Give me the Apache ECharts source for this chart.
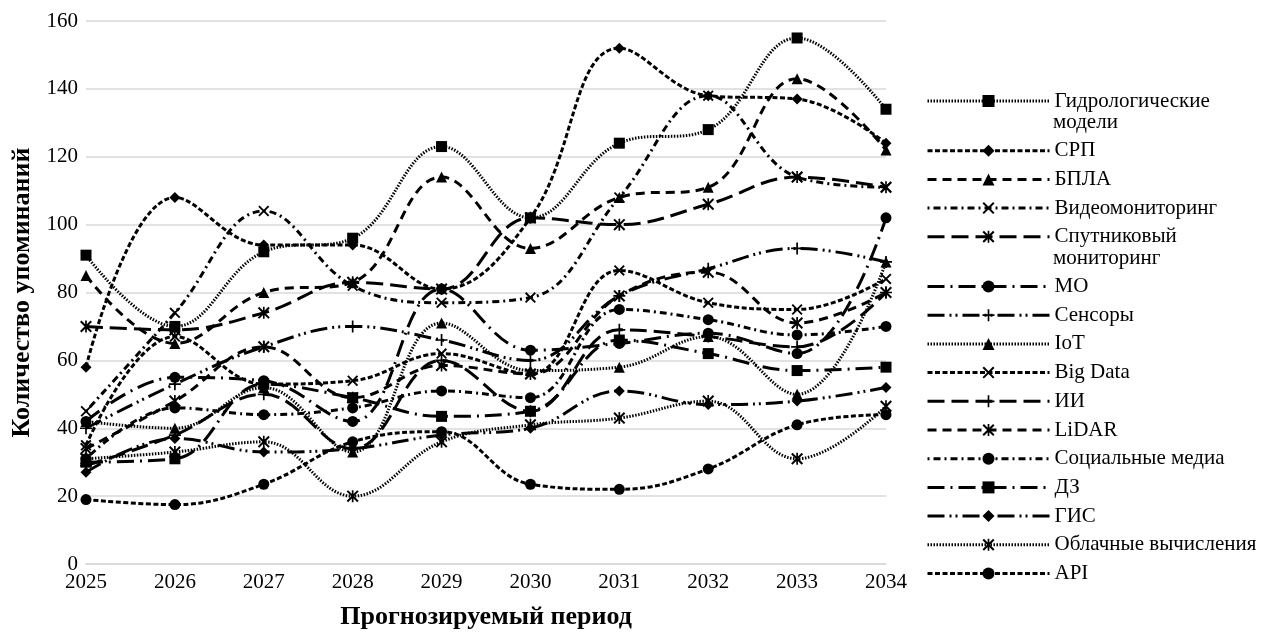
<!DOCTYPE html>
<html>
<head>
<meta charset="utf-8">
<script src="https://cdn.jsdelivr.net/npm/echarts@6/dist/echarts.min.js"></script>
<style>
  html, body { margin: 0; padding: 0; background: #fff; }
  #chart { width: 1262px; height: 635px; }
</style>
</head>
<body>
<div id="chart"></div>
<script>
// Прогноз количества упоминаний технологий, 2025–2034
const years = ['2025', '2026', '2027', '2028', '2029', '2030', '2031', '2032', '2033', '2034'];
const yTicks = [0, 20, 40, 60, 80, 100, 120, 140, 160];

const hydroModels   = [91, 70, 92, 96, 123, 102, 124, 128, 155, 134];
const srp           = [58, 108, 94, 94, 81, 102, 152, 138, 137, 124];
const uav           = [85, 65, 80, 83, 114, 93, 108, 111, 143, 122];
const videoMonitor  = [45, 74, 104, 82, 77, 78.5, 108, 138, 114, 111];
const satellite     = [70, 69, 74, 83, 81, 102, 100, 106, 114, 111];
const ml            = [42, 55, 54, 42, 81, 63, 65, 68, 62, 102];
const sensors       = [40, 53, 64, 70, 66, 60, 79, 87, 93, 89];
const iot           = [42, 40, 52, 33, 71, 57, 58, 67, 50, 89];
const bigData       = [35, 67, 53, 54, 62, 56, 86.5, 77, 75, 84];
const ai            = [29, 38, 50, 34, 60, 45, 69, 67, 64, 80];
const lidar         = [34, 48, 64, 49, 58.5, 56, 79, 86, 71, 80];
const socialMedia   = [31, 46, 44, 46, 51, 49, 75, 72, 67.5, 70];
const remoteSensing = [30, 31, 53, 49, 43.5, 45, 66, 62, 57, 58];
const gis           = [27, 37, 33, 34, 38, 40, 51, 47, 48, 52];
const cloud         = [31, 33, 36, 20, 36, 41, 43, 48, 31, 46.5];
const api           = [19, 17.5, 23.5, 36, 39, 23.5, 22, 28, 41, 44];

// marker shapes
const X_MARK = 'path://M0,1.2L1.2,0L10,8.8L8.8,10Z M8.8,0L10,1.2L1.2,10L0,8.8Z';
const PLUS_MARK = 'path://M4.3,0H5.7V10H4.3Z M0,4.3H10V5.7H0Z';
const STAR_MARK = 'path://M4.3,0H5.7V10H4.3Z M0,1.2L1.2,0L10,8.8L8.8,10Z M8.8,0L10,1.2L1.2,10L0,8.8Z';

// dash patterns
const DOT = [1.5, 1.5];
const SQDASH = [5, 2.5];
const DASH = [9, 6];
const DASHDOT = [2, 4, 7, 4];
const LONGDASH = [17, 7];
const LONGDASHDOT = [17, 6, 2, 6];
const LONGDASHDOTDOT = [17, 5, 2, 4, 2, 5];

const seriesDefs = [
  { name: 'Гидрологические модели', data: hydroModels, dash: DOT, symbol: 'rect', size: 11 },
  { name: 'СРП', data: srp, dash: SQDASH, symbol: 'diamond', size: 11 },
  { name: 'БПЛА', data: uav, dash: DASH, symbol: 'triangle', size: 11 },
  { name: 'Видеомониторинг', data: videoMonitor, dash: DASHDOT, symbol: X_MARK, size: 11 },
  { name: 'Спутниковый мониторинг', data: satellite, dash: LONGDASH, symbol: STAR_MARK, size: 12 },
  { name: 'МО', data: ml, dash: LONGDASHDOT, symbol: 'circle', size: 11 },
  { name: 'Сенсоры', data: sensors, dash: LONGDASHDOTDOT, symbol: PLUS_MARK, size: 12 },
  { name: 'IoT', data: iot, dash: DOT, symbol: 'triangle', size: 11 },
  { name: 'Big Data', data: bigData, dash: SQDASH, symbol: X_MARK, size: 11 },
  { name: 'ИИ', data: ai, dash: LONGDASH, symbol: PLUS_MARK, size: 12 },
  { name: 'LiDAR', data: lidar, dash: DASH, symbol: STAR_MARK, size: 12 },
  { name: 'Социальные медиа', data: socialMedia, dash: DASHDOT, symbol: 'circle', size: 11 },
  { name: 'ДЗ', data: remoteSensing, dash: LONGDASHDOT, symbol: 'rect', size: 11 },
  { name: 'ГИС', data: gis, dash: LONGDASHDOTDOT, symbol: 'diamond', size: 11 },
  { name: 'Облачные вычисления', data: cloud, dash: DOT, symbol: STAR_MARK, size: 12 },
  { name: 'API', data: api, dash: SQDASH, symbol: 'circle', size: 11 }
];

const FONT = 'Liberation Serif, Times New Roman, serif';
const firstLine = { 'Гидрологические модели': 'Гидрологические', 'Спутниковый мониторинг': 'Спутниковый' };

const legendBase = {
  orient: 'vertical',
  left: 921,
  itemWidth: 122,
  itemHeight: 15,
  itemGap: 7.7,
  selectedMode: false,
  formatter: n => firstLine[n] || n,
  lineStyle: { width: 3 },
  textStyle: { fontFamily: FONT, fontSize: 21, color: '#000', lineHeight: 21 }
};
const names = seriesDefs.map(s => s.name);

const chart = echarts.init(document.getElementById('chart'), null, { renderer: 'canvas' });
chart.setOption({
  animation: false,
  backgroundColor: '#fff',
  grid: { left: 86, right: 376, top: 21, bottom: 68, containLabel: false },
  xAxis: {
    type: 'category',
    data: years,
    boundaryGap: false,
    axisLine: { show: true, lineStyle: { color: '#d9d9d9', width: 1.5 } },
    axisTick: { show: false },
    axisLabel: { fontFamily: FONT, fontSize: 21, color: '#000', margin: 8 },
    name: 'Прогнозируемый период',
    nameLocation: 'middle',
    nameGap: 40,
    nameTextStyle: { fontFamily: FONT, fontSize: 26, fontWeight: 'bold', color: '#000' }
  },
  yAxis: {
    type: 'value',
    min: yTicks[0],
    max: yTicks[yTicks.length - 1],
    interval: yTicks[1] - yTicks[0],
    axisLine: { show: false },
    axisTick: { show: false },
    axisLabel: { fontFamily: FONT, fontSize: 21, color: '#000', margin: 8 },
    splitLine: { lineStyle: { color: '#d9d9d9', width: 1.5 } },
    name: 'Количество упоминаний',
    nameLocation: 'middle',
    nameGap: 47,
    nameTextStyle: { fontFamily: FONT, fontSize: 26, fontWeight: 'bold', color: '#000' }
  },
  legend: [
    Object.assign({}, legendBase, { top: 85.5, data: names.slice(0, 1) }),
    Object.assign({}, legendBase, { top: 135.2, data: names.slice(1, 5) }),
    Object.assign({}, legendBase, { top: 271, data: names.slice(5) })
  ],
  graphic: [
    { type: 'text', left: 1053, top: 112, style: { text: 'модели', fontFamily: FONT, fontSize: 21, fill: '#000' } },
    { type: 'text', left: 1053, top: 247.8, style: { text: 'мониторинг', fontFamily: FONT, fontSize: 21, fill: '#000' } }
  ],
  series: seriesDefs.map(s => ({
    name: s.name,
    type: 'line',
    data: s.data,
    smooth: 0.4,
    symbol: s.symbol,
    symbolSize: s.size,
    symbolKeepAspect: true,
    showSymbol: true,
    lineStyle: { color: '#000', width: 3, type: s.dash, cap: 'butt' },
    itemStyle: { color: '#000', borderWidth: 0 }
  }))
});
</script>
</body>
</html>
